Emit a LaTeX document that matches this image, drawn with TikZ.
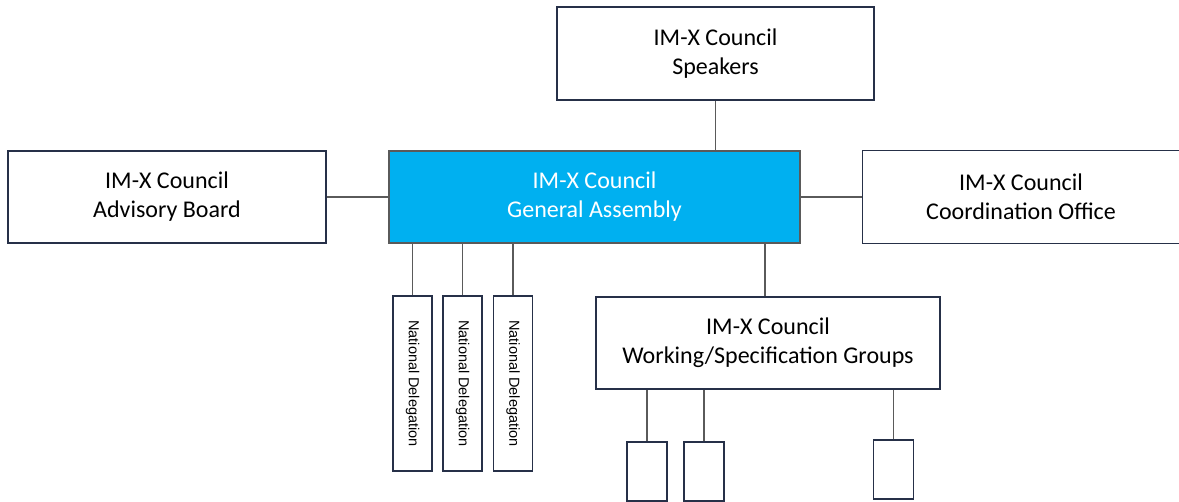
\documentclass[tikz,border=0pt]{standalone}
\usepackage{fontspec}
\setmainfont{Carlito}
\newfontfamily\delegfont{Liberation Sans}
\definecolor{boxline}{RGB}{38,48,72}
\definecolor{linkline}{RGB}{90,90,90}
\definecolor{gafill}{RGB}{0,176,240}
\tikzset{
	orgbox/.style={draw=boxline, line width=1.3pt, fill=white, align=center,
		inner sep=0pt, font=\fontsize{24}{29}\selectfont},
	delegbox/.style={draw=boxline, line width=1.3pt, fill=white, inner sep=0pt,
		minimum width=39pt, minimum height=175pt},
	groupbox/.style={draw=boxline, line width=1.3pt, fill=white, inner sep=0pt,
		minimum width=40pt, minimum height=59pt},
	link/.style={draw=linkline, line width=1.3pt}
}
\begin{document}
\begin{tikzpicture}[x=1pt, y=-1pt]
	\useasboundingbox (0,0) rectangle (1179,502);
	\clip (0,0) rectangle (1179,502);
	% Leitungsebene
	\node[orgbox, minimum width=317pt, minimum height=93pt] (speak) at (715.5, 53.5)
		{IM-X Council\\Speakers};
	\node[orgbox, minimum width=411pt, minimum height=92pt, fill=gafill,
		draw=linkline, text=white] (ga) at (594.5, 197) {IM-X Council\\General Assembly};
	\node[orgbox, minimum width=318pt, minimum height=92pt] (adv) at (167, 197)
		{IM-X Council\\Advisory Board};
	% rechter Rand liegt ausserhalb des Bildes
	\node[orgbox, draw=none, minimum width=316pt, minimum height=92pt] (coord) at (1021, 197)
		{IM-X Council\\Coordination Office};
	\draw[boxline, line width=1.3pt] ([xshift=20pt]coord.north east) -- (coord.north west)
		-- (coord.south west) -- ([xshift=20pt]coord.south east);
	% Delegationen
	\foreach \x [count=\i] in {412.5, 462.5, 513}
		\node[delegbox] (nd\i) at (\x, 383.5)
			{\rotatebox{-90}{\delegfont\fontsize{14.5}{16}\selectfont National Delegation}};
	% Arbeitsgruppen
	\node[orgbox, minimum width=344pt, minimum height=92pt] (wg) at (768, 343)
		{IM-X Council\\Working/Specification Groups};
	\node[groupbox] (grp1) at (647, 471.5) {};
	\node[groupbox] (grp2) at (704, 471.5) {};
	\node[groupbox] (grp3) at (893.5, 469.5) {};
	% Verbindungen
	\draw[link] (speak.south) -- (speak.south |- ga.north);
	\draw[link] (adv.east) -- (ga.west);
	\draw[link] (ga.east) -- (coord.west);
	\foreach \i in {1,2,3}
		\draw[link] (nd\i.north) -- (nd\i.north |- ga.south);
	\draw[link] ([xshift=-3pt]wg.north) -- ([xshift=-3pt]wg.north |- ga.south);
	\foreach \i in {1,2,3}
		\draw[link] (grp\i.north) -- (grp\i.north |- wg.south);
\end{tikzpicture}
\end{document}
